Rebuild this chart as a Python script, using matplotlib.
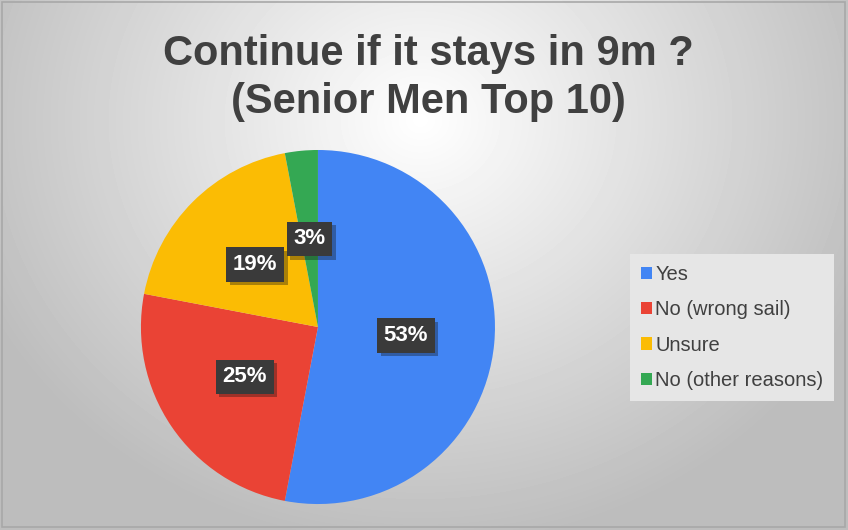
import matplotlib.pyplot as plt
import matplotlib.patheffects as pe
import numpy as np

plt.rcParams['font.family'] = ['Liberation Sans', 'DejaVu Sans']

title = 'Continue if it stays in 9m ?\n(Senior Men Top 10)'
categories = ['Yes', 'No (wrong sail)', 'Unsure', 'No (other reasons)']
shares = [53, 25, 19, 3]
colors = ['#4285F4', '#EA4335', '#FBBC04', '#34A853']

fig = plt.figure(figsize=(8.48, 5.30), dpi=100)

# radial gray background
bg = fig.add_axes([0, 0, 1, 1])
yy, xx = np.mgrid[0:530, 0:848]
d = np.sqrt(((xx - 420) / 520.0) ** 2 + ((yy - 120) / 460.0) ** 2)
shade = np.clip(1.0 - 0.28 * d, 0.74, 1.0)
bg.imshow(shade, cmap='gray', vmin=0, vmax=1, extent=[0, 848, 530, 0], aspect='auto')
bg.add_patch(plt.Rectangle((2, 2), 843, 525, fill=False, edgecolor='#a8a8a8', lw=1.2))
bg.set_xlim(0, 848)
bg.set_ylim(530, 0)
bg.axis('off')

fig.text(0.505, 0.853, title, ha='center', va='center', fontsize=30,
         fontweight='bold', color='#404040', linespacing=1.25)

ax = fig.add_axes([0.375 - 0.2088, 0.383 - 0.334, 0.4175, 0.668])
wedges, texts, autotexts = ax.pie(
    shares, colors=colors, startangle=90, counterclock=False,
    autopct=lambda p: '%d%%' % round(p), pctdistance=0.5,
    wedgeprops=dict(linewidth=0),
    textprops=dict(color='white', fontsize=16, fontweight='bold'))
ax.set_xlim(-1, 1)
ax.set_ylim(-1, 1)
ax.set_aspect('equal')
for t in autotexts:
    t.set_bbox(dict(boxstyle='square,pad=0.3', facecolor='#3a3a3a', edgecolor='none'))
    t.get_bbox_patch().set_path_effects([
        pe.SimplePatchShadow(offset=(2.5, -2.5), alpha=0.35), pe.Normal()])

leg = fig.legend(wedges, categories, loc='center left',
                 bbox_to_anchor=(0.743, 0.382), fontsize=14.5,
                 frameon=True, fancybox=False, handlelength=0.55,
                 handleheight=0.55, handletextpad=0.15, labelspacing=0.8,
                 borderpad=0.55, borderaxespad=0, labelcolor='#404040')
leg.get_frame().set_facecolor('#e6e6e6')
leg.get_frame().set_edgecolor('none')
leg.get_frame().set_alpha(1)

fig.savefig('out.png', dpi=100)
